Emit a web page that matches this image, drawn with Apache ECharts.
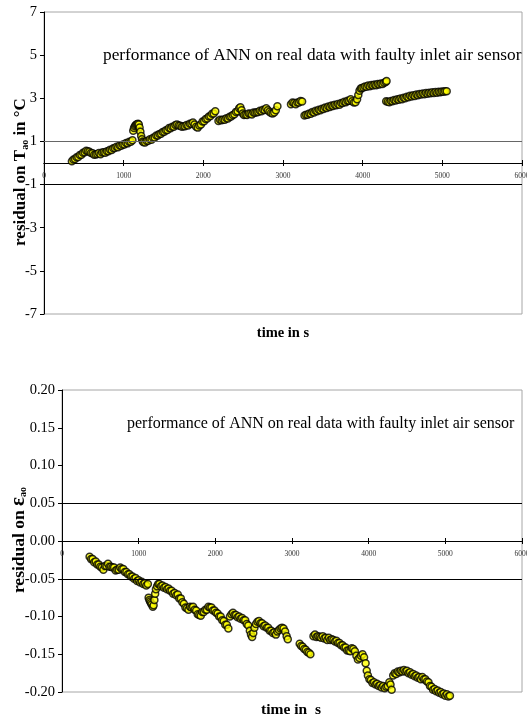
<!DOCTYPE html>
<html><head><meta charset="utf-8">
<script src="https://cdn.jsdelivr.net/npm/echarts@6/dist/echarts.min.js"></script>
<style>html,body{margin:0;padding:0;background:#fff}#c{width:527px;height:718px}</style>
</head><body><div id="c"></div>
<script>
// ---- top chart: residual on T_ao (°C) vs time (s)
const tempTime = [
 350,370,390,410,430,450,470,490,510,530,550,570,590,610,630,650,670,690,710,730,750,770,790,810,830,850,870,890,910,930,950,970,990,1010,1030,1050,1070,1090,1110,
 1120,1130,1140,1150,1160,1170,1180,1190,1200,1210,1220,1230,1240,1250,1270,1290,1310,1330,1350,1370,1390,1410,1430,1450,1470,1490,1510,1530,1550,1570,1590,1610,1630,1650,1670,1690,1710,1730,1750,1770,1790,1810,1830,1850,1870,1890,1910,1930,1950,1970,1990,2010,2030,2050,2070,2090,2110,2130,2150,
 2190,2210,2230,2250,2270,2290,2310,2330,2350,2370,2390,2410,2430,2450,2465,2480,2495,2510,2530,2550,2570,2590,2610,2630,2650,2670,2690,2710,2730,2750,2770,2790,2810,2830,2850,2870,2890,2910,2930,
 3100,3120,3140,3160,3180,3200,3220,3240,
 3270,3290,3310,3330,3350,3370,3390,3410,3430,3450,3470,3490,3510,3530,3550,3570,3590,3610,3630,3650,3670,3690,3710,3730,3750,3770,3790,3810,3830,3850,3870,3890,3910,3930,3945,3960,3975,3990,4010,4030,4050,4070,4090,4110,4130,4150,4170,4190,4210,4230,4250,4270,4290,4300,
 4295,4315,4335,4355,4375,4395,4415,4435,4455,4475,4495,4515,4535,4555,4575,4595,4615,4635,4655,4675,4695,4715,4735,4755,4775,4795,4815,4835,4855,4875,4895,4915,4935,4955,4975,4995,5015,5035,5055
];
const tempResid = [
 0.08,0.16,0.18,0.27,0.28,0.37,0.38,0.48,0.5,0.57,0.55,0.52,0.46,0.45,0.38,0.39,0.42,0.46,0.41,0.49,0.5,0.47,0.55,0.54,0.62,0.6,0.68,0.69,0.75,0.73,0.81,0.8,0.86,0.86,0.93,0.91,0.99,0.98,1.05,
 1.5,1.62,1.7,1.75,1.78,1.8,1.82,1.78,1.65,1.45,1.25,1.1,1.0,0.96,0.95,1.02,1.03,1.1,1.08,1.17,1.18,1.27,1.28,1.35,1.36,1.44,1.45,1.52,1.53,1.62,1.61,1.68,1.68,1.76,1.78,1.74,1.73,1.68,1.7,1.7,1.76,1.74,1.82,1.82,1.88,1.78,1.68,1.64,1.74,1.78,1.92,1.94,2.04,2.06,2.16,2.18,2.28,2.3,2.4,
 1.95,2.0,1.98,2.02,2.01,2.08,2.06,2.14,2.16,2.22,2.26,2.37,2.4,2.54,2.58,2.45,2.3,2.22,2.24,2.23,2.3,2.28,2.25,2.34,2.33,2.35,2.36,2.42,2.4,2.47,2.46,2.54,2.45,2.38,2.32,2.3,2.34,2.45,2.63,
 2.72,2.8,2.78,2.72,2.8,2.8,2.87,2.85,
 2.2,2.24,2.24,2.3,2.28,2.37,2.34,2.42,2.4,2.47,2.45,2.52,2.5,2.57,2.55,2.62,2.6,2.66,2.64,2.7,2.68,2.74,2.7,2.78,2.78,2.84,2.82,2.88,2.88,2.96,2.86,2.8,2.82,2.95,3.15,3.35,3.45,3.48,3.5,3.55,3.54,3.59,3.56,3.62,3.59,3.64,3.61,3.66,3.64,3.69,3.66,3.72,3.75,3.8,
 2.86,2.84,2.82,2.87,2.86,2.92,2.9,2.95,2.93,2.99,2.96,3.02,3.0,3.07,3.05,3.12,3.08,3.14,3.11,3.17,3.14,3.2,3.17,3.22,3.19,3.24,3.21,3.26,3.23,3.28,3.25,3.29,3.26,3.3,3.28,3.31,3.3,3.33,3.33
];
// ---- bottom chart: residual on eps_ao vs time (s)
const effTime = [
 360,380,400,420,440,460,480,500,520,540,560,580,600,620,640,660,680,700,720,740,760,780,800,820,840,860,880,900,920,940,960,980,1000,1020,1040,1060,1080,1100,1120,
 1130,1140,1150,1160,1170,1185,1195,1205,1215,1225,1240,1255,1270,1290,1310,1330,1350,1370,1390,1410,1430,1450,1470,1490,1510,1530,1550,1570,1590,1610,1630,1650,1670,1690,1710,1730,1750,1770,1790,1810,1830,1850,1870,1890,1910,1930,1950,1970,1990,2010,2030,2050,2070,2090,2110,2130,2150,2170,
 2190,2210,2230,2250,2270,2290,2310,2330,2350,2370,2390,2410,2430,2450,2465,2480,2495,2510,2530,2550,2570,2590,2610,2630,2650,2670,2690,2710,2730,2750,2770,2790,2810,2830,2850,2870,2890,2910,2930,2945,
 3100,3120,3140,3160,3180,3200,3220,3240,
 3280,3300,3320,3340,3360,3380,3400,3420,3440,3460,3480,3500,3520,3540,3560,3580,3600,3620,3640,3660,3680,3700,3720,3740,3760,3780,3800,3820,3840,3860,3880,3900,3920,3940,3960,3975,3990,4010,4030,4050,4070,4090,4110,4130,4150,4170,4190,4210,4230,4250,4270,4285,4300,
 4320,4340,4360,4380,4400,4420,4440,4460,4480,4500,4520,4540,4560,4580,4600,4620,4640,4660,4680,4700,4720,4740,4760,4780,4800,4820,4840,4860,4880,4900,4920,4940,4960,4980,5000,5020,5040,5060
];
const effResid = [
 -0.021,-0.024,-0.024,-0.028,-0.027,-0.031,-0.031,-0.034,-0.035,-0.038,-0.033,-0.033,-0.03,-0.034,-0.034,-0.035,-0.035,-0.039,-0.038,-0.038,-0.035,-0.037,-0.037,-0.041,-0.041,-0.044,-0.044,-0.047,-0.047,-0.05,-0.049,-0.053,-0.052,-0.055,-0.054,-0.057,-0.056,-0.059,-0.057,
 -0.075,-0.078,-0.08,-0.082,-0.084,-0.087,-0.085,-0.078,-0.07,-0.064,-0.06,-0.057,-0.057,-0.06,-0.059,-0.062,-0.061,-0.064,-0.063,-0.066,-0.066,-0.07,-0.069,-0.072,-0.071,-0.076,-0.076,-0.081,-0.083,-0.088,-0.089,-0.091,-0.087,-0.088,-0.087,-0.091,-0.092,-0.097,-0.098,-0.099,-0.094,-0.094,-0.091,-0.091,-0.087,-0.088,-0.088,-0.092,-0.092,-0.095,-0.096,-0.1,-0.1,-0.105,-0.106,-0.111,-0.111,-0.116,
 -0.1,-0.097,-0.095,-0.098,-0.098,-0.101,-0.1,-0.103,-0.102,-0.105,-0.105,-0.11,-0.112,-0.119,-0.124,-0.127,-0.122,-0.115,-0.11,-0.107,-0.106,-0.109,-0.109,-0.113,-0.112,-0.115,-0.115,-0.119,-0.119,-0.122,-0.121,-0.124,-0.12,-0.118,-0.116,-0.115,-0.116,-0.12,-0.126,-0.13,
 -0.136,-0.139,-0.14,-0.143,-0.144,-0.147,-0.148,-0.15,
 -0.126,-0.124,-0.127,-0.126,-0.127,-0.128,-0.126,-0.129,-0.128,-0.131,-0.128,-0.131,-0.13,-0.131,-0.133,-0.132,-0.135,-0.135,-0.138,-0.138,-0.141,-0.141,-0.145,-0.145,-0.146,-0.142,-0.143,-0.146,-0.152,-0.157,-0.155,-0.152,-0.15,-0.154,-0.162,-0.172,-0.178,-0.183,-0.184,-0.188,-0.187,-0.19,-0.189,-0.192,-0.191,-0.194,-0.192,-0.195,-0.193,-0.192,-0.187,-0.19,-0.197,
 -0.178,-0.175,-0.176,-0.173,-0.174,-0.172,-0.173,-0.171,-0.173,-0.172,-0.175,-0.174,-0.177,-0.176,-0.179,-0.178,-0.181,-0.18,-0.183,-0.18,-0.183,-0.183,-0.186,-0.187,-0.192,-0.193,-0.197,-0.196,-0.199,-0.198,-0.201,-0.2,-0.203,-0.202,-0.205,-0.203,-0.206,-0.205
];
const tempTicks = [-7,-5,-3,-1,1,3,5,7];
const tempLimits = [1,-1];
const effLimits = [0.05,-0.05];
const chartTitle = 'performance of ANN on real data with faulty inlet air sensor';

const SERIF = "'Liberation Serif','Times New Roman',serif";
const chart = echarts.init(document.getElementById('c'), null, {renderer:'canvas'});

function mainX(grid){
  return {type:'value', gridIndex:grid, min:0, max:6000, interval:1000, position:'bottom',
    axisLine:{onZero:false, lineStyle:{color:'#000', width:1}},
    axisTick:{show:true, length:3, lineStyle:{color:'#000'}},
    axisLabel:{fontFamily:SERIF, fontSize:7.5, color:'#333', margin:9, formatter:v=>String(v)},
    splitLine:{show:false}};
}
function tickX(grid){
  return {type:'value', gridIndex:grid, min:0, max:6000, interval:1000, position:'top',
    axisLine:{onZero:false, lineStyle:{color:'#000', width:1}},
    axisTick:{show:true, length:3, lineStyle:{color:'#000'}},
    axisLabel:{show:false}, splitLine:{show:false}};
}
const markerStyle = {color:'#ffff00', borderColor:'#000', borderWidth:1.5};
function limitLine(values, colors){
  return {symbol:['none','none'], silent:true, animation:false, label:{show:false},
    data: values.map((v,i)=>({yAxis:v, lineStyle:{color:colors[i], width:1, type:'solid'}}))};
}

chart.setOption({
  animation:false,
  backgroundColor:'#fff',
  grid:[
    {left:44, top:12, width:478, height:302, show:true, borderColor:'#a6a6a6', borderWidth:1, outerBoundsMode:'none', containLabel:false},
    {left:62, top:390, width:460, height:302, show:true, borderColor:'#a6a6a6', borderWidth:1, outerBoundsMode:'none', containLabel:false}
  ],
  xAxis:[mainX(0), tickX(0), mainX(1), tickX(1)],
  yAxis:[
    {type:'value', gridIndex:0, min:-7, max:7, interval:1,
      axisLine:{show:true, onZero:false, lineStyle:{color:'#000'}},
      axisTick:{show:true, length:4, customValues:tempTicks, lineStyle:{color:'#000'}},
      axisLabel:{customValues:tempTicks, fontFamily:SERIF, fontSize:14.5, color:'#000', margin:7},
      splitLine:{show:false}},
    {type:'value', gridIndex:1, min:-0.2, max:0.2, interval:0.05,
      axisLine:{show:true, onZero:false, lineStyle:{color:'#000'}},
      axisTick:{show:true, length:4, lineStyle:{color:'#000'}},
      axisLabel:{fontFamily:SERIF, fontSize:14.5, color:'#000', margin:7, formatter:v=>v.toFixed(2)},
      splitLine:{show:false}}
  ],
  series:[
    {type:'scatter', xAxisIndex:0, yAxisIndex:0, symbol:'circle', symbolSize:7, clip:false,
      itemStyle:markerStyle, data: tempTime.map((t,i)=>[t,tempResid[i]]),
      markLine: limitLine(tempLimits, ['#666','#000'])},
    {type:'scatter', xAxisIndex:2, yAxisIndex:1, symbol:'circle', symbolSize:7, clip:false,
      itemStyle:markerStyle, data: effTime.map((t,i)=>[t,effResid[i]]),
      markLine: limitLine(effLimits, ['#000','#000'])}
  ],
  graphic:[
    {type:'text', left:103, top:47, style:{text:chartTitle, font:'17.3px '+SERIF, fill:'#000'}},
    {type:'text', left:127, top:416, style:{text:chartTitle, font:'16px '+SERIF, fill:'#000'}},
    {type:'text', x:283, y:333, style:{text:'time in s', font:'bold 14.5px '+SERIF, fill:'#000', align:'center', verticalAlign:'middle'}},
    {type:'text', x:291, y:710, style:{text:'time in  s', font:'bold 15.5px '+SERIF, fill:'#000', align:'center', verticalAlign:'middle'}},
    {type:'text', x:21, y:172, rotation:Math.PI/2,
      style:{text:'residual on T{sub|ao} in °C', font:'bold 17px '+SERIF, fill:'#000', align:'center', verticalAlign:'middle',
        rich:{sub:{font:'bold 10px '+SERIF, fill:'#000', padding:[8,0,0,0]}}}},
    {type:'text', x:19, y:540, rotation:Math.PI/2,
      style:{text:'residual on {eps|ε}{sub|ao}', font:'bold 17.5px '+SERIF, fill:'#000', align:'center', verticalAlign:'middle',
        rich:{eps:{font:'bold 21px '+SERIF, fill:'#000'}, sub:{font:'bold 10px '+SERIF, fill:'#000', padding:[9,0,0,0]}}}}
  ]
});

// place the time axes where the residual is zero, using the library's own y scales
function zeroOffsets(yIdx, yMin, yMax){
  const z = chart.convertToPixel({yAxisIndex:yIdx}, 0);
  const bottom = chart.convertToPixel({yAxisIndex:yIdx}, yMin);
  const top = chart.convertToPixel({yAxisIndex:yIdx}, yMax);
  return [z - bottom, top - z];
}
const o0 = zeroOffsets(0, -7, 7);
const o1 = zeroOffsets(1, -0.2, 0.2);
chart.setOption({xAxis:[{offset:o0[0]},{offset:o0[1]},{offset:o1[0]},{offset:o1[1]}]});
</script></body></html>
